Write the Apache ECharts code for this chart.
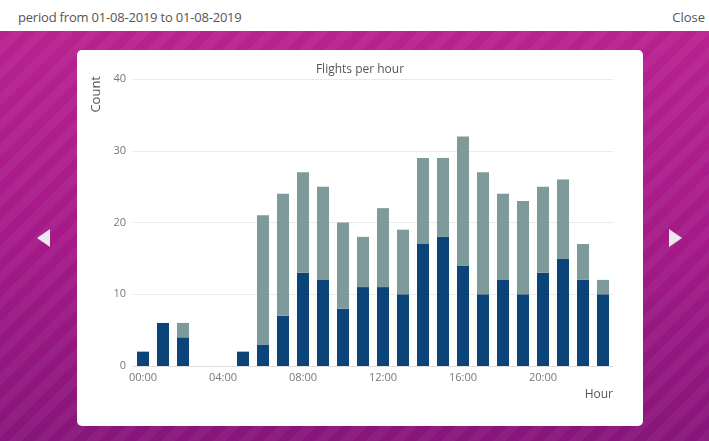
<!DOCTYPE html>
<html>
<head>
<meta charset="utf-8">
<script src="https://cdn.jsdelivr.net/npm/echarts@6/dist/echarts.min.js"></script>
<style>
  html, body { margin:0; padding:0; width:709px; height:441px; overflow:hidden; background:#fff; font-family:"Open Sans", sans-serif; }
  #header { position:absolute; left:0; top:0; width:709px; height:31px; background:#fff; }
  #period { position:absolute; left:18px; top:8px; font-size:13px; color:#555; letter-spacing:-0.2px; }
  #close { position:absolute; right:4px; top:8px; font-size:13px; color:#555; }
  #bg { position:absolute; left:0; top:31px; width:709px; height:410px;
        background:
          repeating-linear-gradient(-45deg, rgba(255,255,255,0.045) 0px, rgba(255,255,255,0.045) 9px, rgba(0,0,0,0) 9px, rgba(0,0,0,0) 18px),
          linear-gradient(to bottom, #b8228f 0%, #a51a88 50%, #87157a 100%); }
  #card { position:absolute; left:77px; top:50px; width:566px; height:376px; background:#fff; border-radius:5px; }
  .arrow { position:absolute; width:0; height:0; border-top:9px solid transparent; border-bottom:9px solid transparent; }
  #left { left:37px; top:229px; border-right:13px solid #e8e8ee; }
  #right { left:669px; top:229px; border-left:13px solid #e8e8ee; }
  #chart { position:absolute; left:77px; top:50px; width:566px; height:376px; }
</style>
</head>
<body>
<div id="header"><div id="period">period from 01-08-2019 to 01-08-2019</div><div id="close">Close</div></div>
<div id="bg"></div>
<div id="card"></div>
<div class="arrow" id="left"></div>
<div class="arrow" id="right"></div>
<div id="chart"></div>
<script>
const hours = ["00:00","01:00","02:00","03:00","04:00","05:00","06:00","07:00","08:00","09:00","10:00","11:00",
               "12:00","13:00","14:00","15:00","16:00","17:00","18:00","19:00","20:00","21:00","22:00","23:00"];
const darkCounts = [2,6,4,0,0,2,3,7,13,12,8,11,11,10,17,18,14,10,12,10,13,15,12,10];
const greyCounts = [0,0,2,0,0,0,18,17,14,13,12,7,11,9,12,11,18,17,12,13,12,11,5,2];
const yTicks = [0,10,20,30,40];

const chart = echarts.init(document.getElementById('chart'));
chart.setOption({
  animation:false,
  title:{ text:'Flights per hour', left:'center', top:9, textStyle:{ fontSize:12, fontWeight:'normal', color:'#555', fontFamily:'Open Sans' } },
  grid:{ left:56, right:30, top:29, bottom:60 },
  xAxis:{
    type:'category', data:hours,
    name:'Hour', nameLocation:'end', nameGap:0,
    nameTextStyle:{ align:'right', verticalAlign:'top', padding:[23,0,0,0], fontSize:12, color:'#555', fontFamily:'Open Sans' },
    axisLine:{ lineStyle:{ color:'#ddd' } }, axisTick:{ show:false },
    axisLabel:{ interval:3, color:'#777', fontSize:11, margin:6, fontFamily:'Open Sans' }
  },
  yAxis:{
    type:'value', min:yTicks[0], max:yTicks[yTicks.length-1], interval:10,
    name:'Count', nameLocation:'end', nameRotate:90, nameGap:3,
    nameTextStyle:{ fontSize:13, color:'#555', fontFamily:'Open Sans', align:'right', verticalAlign:'bottom', padding:[0,0,30,0] },
    axisLine:{ show:false }, axisTick:{ show:false },
    axisLabel:{ color:'#777', fontSize:11, margin:7, fontFamily:'Open Sans' },
    splitLine:{ lineStyle:{ color:'#eaeaea' } }
  },
  series:[
    { type:'bar', stack:'a', data:darkCounts, barWidth:12, itemStyle:{ color:'#0b4479' } },
    { type:'bar', stack:'a', data:greyCounts, barWidth:12, itemStyle:{ color:'#7f9a9a' } }
  ]
});
</script>
</body>
</html>
